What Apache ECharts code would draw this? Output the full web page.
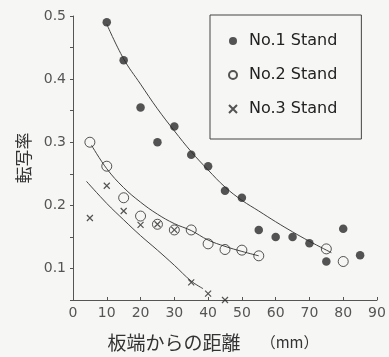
<!DOCTYPE html>
<html>
<head>
<meta charset="utf-8">
<script src="https://cdn.jsdelivr.net/npm/echarts@6/dist/echarts.min.js"></script>
<style>
  html, body { margin: 0; padding: 0; background: #f6f6f4; }
  #chart { width: 389px; height: 357px; }
</style>
</head>
<body>
<div id="chart"></div>
<script>
// Measured transfer ratio versus distance from the strip edge, per stand
const stand1X = [10, 15, 20, 25, 30, 35, 40, 45, 50, 55, 60, 65, 70, 75, 80, 85];
const stand1Y = [0.49, 0.43, 0.355, 0.30, 0.325, 0.28, 0.262, 0.223, 0.212, 0.161, 0.150, 0.150, 0.140, 0.111, 0.163, 0.121];

const stand2X = [5, 10, 15, 20, 25, 30, 35, 40, 45, 50, 55, 75, 80];
const stand2Y = [0.30, 0.262, 0.212, 0.183, 0.170, 0.161, 0.161, 0.139, 0.130, 0.129, 0.120, 0.131, 0.111];

const stand3X = [5, 10, 15, 20, 25, 30, 35, 40, 45];
const stand3Y = [0.180, 0.231, 0.191, 0.169, 0.170, 0.161, 0.078, 0.060, 0.050];

// Trend curves drawn through each stand's points
const fit1X = [10, 15, 20, 25, 30, 35, 40, 45, 50, 55, 60, 65, 70, 76.5];
const fit1Y = [0.487, 0.432, 0.392, 0.353, 0.318, 0.285, 0.256, 0.229, 0.208, 0.191, 0.174, 0.158, 0.143, 0.125];

const fit2X = [5.5, 10, 15, 20, 25, 30, 35, 40, 45, 50, 55];
const fit2Y = [0.295, 0.258, 0.228, 0.205, 0.186, 0.171, 0.160, 0.145, 0.135, 0.127, 0.120];

const fit3X = [4, 10, 15, 20, 25, 30, 35, 38.5];
const fit3Y = [0.238, 0.203, 0.177, 0.152, 0.129, 0.105, 0.080, 0.068];

const seriesNames = ['No.1 Stand', 'No.2 Stand', 'No.3 Stand'];
const xTicks = { min: 0, max: 90, step: 10 };
const yTicks = { min: 0.05, max: 0.5, step: 0.05 };

const pairs = (xs, ys) => xs.map((x, i) => [x, ys[i]]);

const ink = '#2a2a2a';
const axisInk = '#555';
const labelFont = 'DejaVu Sans';

function fitLine(xs, ys) {
  return {
    type: 'line',
    data: pairs(xs, ys),
    smooth: 0.4,
    symbol: 'none',
    silent: true,
    lineStyle: { color: '#444', width: 1 },
    z: 1
  };
}

const chart = echarts.init(document.getElementById('chart'), null, { renderer: 'canvas' });

chart.setOption({
  backgroundColor: '#f6f6f4',
  animation: false,
  grid: { left: 73, right: 12, top: 16, bottom: 54, containLabel: false },
  legend: {
    orient: 'vertical',
    left: 210,
    top: 15,
    data: seriesNames,
    borderColor: '#444',
    borderWidth: 1,
    padding: [18, 24, 22, 18],
    itemGap: 18,
    itemWidth: 8,
    itemHeight: 8,
    textStyle: { fontSize: 16, fontFamily: labelFont, color: '#222', lineHeight: 14, padding: [0, 0, 0, 7] }
  },
  xAxis: {
    type: 'value',
    min: xTicks.min,
    max: xTicks.max,
    interval: xTicks.step,
    name: '{a|板端からの距離}{b|      （mm）}',
    nameLocation: 'middle',
    nameGap: 33,
    nameTextStyle: {
      padding: [0, 24, 0, 0],
      rich: {
        a: { fontSize: 19, fontFamily: 'Noto Sans CJK JP', color: '#333' },
        b: { fontSize: 15, fontFamily: 'Noto Sans CJK JP', color: '#333' }
      }
    },
    axisLine: { lineStyle: { color: axisInk, width: 1 } },
    axisTick: { inside: true, length: 3, lineStyle: { color: axisInk } },
    axisLabel: { fontSize: 14, fontFamily: labelFont, color: '#555', margin: 6 },
    splitLine: { show: false }
  },
  yAxis: {
    type: 'value',
    min: yTicks.min,
    max: yTicks.max,
    interval: yTicks.step,
    name: '転写率',
    nameLocation: 'middle',
    nameGap: 41,
    nameRotate: 90,
    nameTextStyle: { fontSize: 17, fontFamily: 'Noto Sans CJK JP', color: '#333' },
    axisLine: { show: true, lineStyle: { color: axisInk, width: 1 } },
    axisTick: { show: true, length: 3, lineStyle: { color: axisInk } },
    axisLabel: {
      fontSize: 14,
      fontFamily: labelFont,
      color: '#555',
      margin: 7,
      formatter: v => (Math.abs(v * 10 - Math.round(v * 10)) < 1e-6 ? v.toFixed(1) : '')
    },
    splitLine: { show: false }
  },
  series: [
    {
      name: seriesNames[0],
      type: 'scatter',
      data: pairs(stand1X, stand1Y),
      symbol: 'circle',
      symbolSize: 8.5,
      clip: false,
      itemStyle: { color: ink },
      z: 3
    },
    {
      name: seriesNames[1],
      type: 'scatter',
      data: pairs(stand2X, stand2Y),
      symbol: 'circle',
      symbolSize: 10,
      clip: false,
      itemStyle: { color: 'rgba(0,0,0,0)', borderColor: ink, borderWidth: 1 },
      z: 3
    },
    {
      name: seriesNames[2],
      type: 'scatter',
      data: pairs(stand3X, stand3Y),
      symbol: 'path://M0,0L10,10M10,0L0,10',
      symbolSize: 6,
      clip: false,
      itemStyle: { color: 'rgba(0,0,0,0)', borderColor: ink, borderWidth: 1.2 },
      z: 3
    },
    fitLine(fit1X, fit1Y),
    fitLine(fit2X, fit2Y),
    fitLine(fit3X, fit3Y)
  ]
});
</script>
</body>
</html>
